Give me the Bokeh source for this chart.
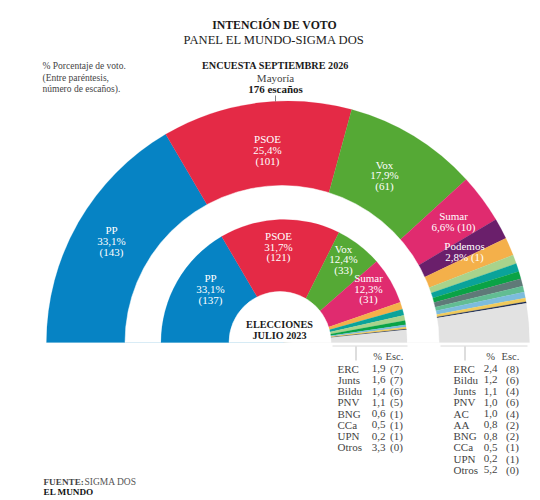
import math
from bokeh.plotting import figure
from bokeh.models import ColumnDataSource, Range1d
from bokeh.embed import file_html
from bokeh.resources import INLINE

# ---- data ----
parties_2026 = ["PP", "PSOE", "Vox", "Sumar", "Podemos", "ERC", "Bildu", "Junts", "PNV", "AC", "AA", "BNG", "CCa", "UPN", "Otros"]
votes_2026 = [33.1, 25.4, 17.9, 6.6, 2.8, 2.4, 1.2, 1.1, 1.0, 1.0, 0.8, 0.8, 0.5, 0.2, 5.2]
seats_2026 = [143, 101, 61, 10, 1, 8, 6, 4, 6, 4, 2, 2, 1, 1, 0]

parties_2023 = ["PP", "PSOE", "Vox", "Sumar", "ERC", "Junts", "Bildu", "PNV", "BNG", "CCa", "UPN", "Otros"]
votes_2023 = [33.1, 31.7, 12.4, 12.3, 1.9, 1.6, 1.4, 1.1, 0.6, 0.5, 0.2, 3.3]
seats_2023 = [137, 121, 33, 31, 7, 7, 6, 5, 1, 1, 1, 0]

colors = {
    "PP": "#0683c4", "PSOE": "#e42a46", "Vox": "#55a935", "Sumar": "#e02b6f",
    "Podemos": "#6a1f6b", "ERC": "#f4b04a", "Bildu": "#a9d38c", "Junts": "#0aa39a",
    "PNV": "#0aa346", "AC": "#5f7a78", "AA": "#62bd93", "BNG": "#7cbcdd",
    "CCa": "#f0ca5b", "UPN": "#1c2b50", "Otros": "#e2e2e2",
}

SERIF = "Liberation Serif"
W, H = 536, 496
p = figure(width=W, height=H, output_backend="svg", toolbar_location=None,
           x_range=Range1d(0, W), y_range=Range1d(500 - H, 500), min_border=0)
p.axis.visible = False
p.grid.visible = False
p.outline_line_color = None
p.background_fill_color = "white"
p.border_fill_color = "white"


def Y(y):
    return 500 - y


def ring(names, vals, cx, cy, R, hole_cx, hole_r):
    total = sum(vals)
    starts, ends, c = [], [], 0.0
    for v in vals:
        starts.append(math.pi * (1 - c / total))
        c += v
        ends.append(math.pi * (1 - c / total))
    src = ColumnDataSource(dict(x=[cx] * len(vals), y=[Y(cy)] * len(vals), r=[R] * len(vals),
                                s=starts, e=ends, c=[colors[n] for n in names]))
    p.wedge(x="x", y="y", radius="r", start_angle="s", end_angle="e", direction="clock",
            fill_color="c", line_color="c", line_width=0.2, source=src)
    p.wedge(x=[hole_cx], y=[Y(cy)], radius=[hole_r], start_angle=[0], end_angle=[math.pi],
            direction="anticlock", fill_color="white", line_color="white", line_width=0.5)


ring(parties_2026, votes_2026, 287.5, 342, 241.5, 281.5, 157)
ring(parties_2023, votes_2023, 283.5, 342, 123, 279.5, 51)


def fmt(v):
    return f"{v:.1f}".replace(".", ",")


def txt(x, y, s, size=11, color="#333333", style="normal", align="center", font=SERIF):
    p.text(x=[x], y=[Y(y - 1)], text=[s], text_font=font, text_font_size=f"{size}px",
           text_color=color, text_font_style=style, text_align=align, text_baseline="middle")


def label(x, ys, lines, size=11):
    for y, s in zip(ys, lines):
        txt(x, y, s, size=size, color="white")


d26 = {n: (fmt(v), s) for n, v, s in zip(parties_2026, votes_2026, seats_2026)}
d23 = {n: (fmt(v), s) for n, v, s in zip(parties_2023, votes_2023, seats_2023)}

for name, x, ys in [("PP", 111, (230, 241, 252)), ("PSOE", 267, (139, 150, 161)), ("Vox", 384, (165, 175, 186))]:
    label(x, ys, [name, f"{d26[name][0]}%", f"({d26[name][1]})"])
label(453, (216, 227), ["Sumar", f"{d26['Sumar'][0]}% ({d26['Sumar'][1]})"])
label(464, (246, 257), ["Podemos", f"{d26['Podemos'][0]}% ({d26['Podemos'][1]})"])
for name, x, ys in [("PP", 210, (278, 289, 300)), ("PSOE", 278, (236, 247, 257)),
                    ("Vox", 343, (249, 259, 270)), ("Sumar", 368, (278, 289, 299))]:
    label(x, ys, [name, f"{d23[name][0]}%", f"({d23[name][1]})"])

# titles
txt(274, 25, "INTENCIÓN DE VOTO", size=11.8, color="#1a1a1a", style="bold")
txt(274, 40, "PANEL EL MUNDO-SIGMA DOS", size=12.6, color="#222222")
txt(275, 66, "ENCUESTA SEPTIEMBRE 2026", size=10.2, color="#1a1a1a", style="bold")
txt(275, 78, "Mayoría", size=11, color="#444444")
txt(275, 89, "176 escaños", size=11, color="#1a1a1a", style="bold")
p.segment(x0=[275], y0=[Y(95)], x1=[275], y1=[Y(101)], line_color="#666666", line_width=0.8)

for y, s in zip((66, 78, 89), ("% Porcentaje de voto.", "(Entre paréntesis,", "número de escaños).")):
    txt(42, y, s, size=9.5, color="#444444", align="left")

txt(279, 325, "ELECCIONES", size=10.2, color="#1a1a1a", style="bold")
txt(279, 336, "JULIO 2023", size=10.2, color="#1a1a1a", style="bold")

# tables
p.segment(x0=[332, 440], y0=[Y(345.5)] * 2, x1=[407, 527], y1=[Y(345.5)] * 2, line_color="#d8d8d8", line_width=1)
p.segment(x0=[355.5, 464.5], y0=[Y(346)] * 2, x1=[355.5, 464.5], y1=[Y(360)] * 2, line_color="#bbbbbb", line_width=1)

GREY = "#444444"
txt(377, 357, "%", size=10.5, color=GREY)
txt(394, 357, "Esc.", size=10.5, color=GREY)
for i, n in enumerate(parties_2023[4:]):
    y = 369 + i * 11.25
    txt(337, y, n, size=11, color=GREY, align="left")
    txt(378, y, d23[n][0], size=11, color=GREY)
    txt(396, y, f"({d23[n][1]})", size=11, color=GREY)

txt(490, 357, "%", size=10.5, color=GREY)
txt(510, 357, "Esc.", size=10.5, color=GREY)
for i, n in enumerate(parties_2026[5:]):
    y = 369 + i * 11.25
    txt(453, y, n, size=11, color=GREY, align="left")
    txt(490, y, d26[n][0], size=11, color=GREY)
    txt(512, y, f"({d26[n][1]})", size=11, color=GREY)

# source
txt(43, 482, "FUENTE:", size=9.2, color="#444444", style="bold", align="left")
txt(84, 482, "SIGMA DOS", size=9.5, color="#555555", align="left")
txt(43, 492, "EL MUNDO", size=9.2, color="#111111", style="bold", align="left")

open("out.html", "w").write(file_html(p, INLINE))
